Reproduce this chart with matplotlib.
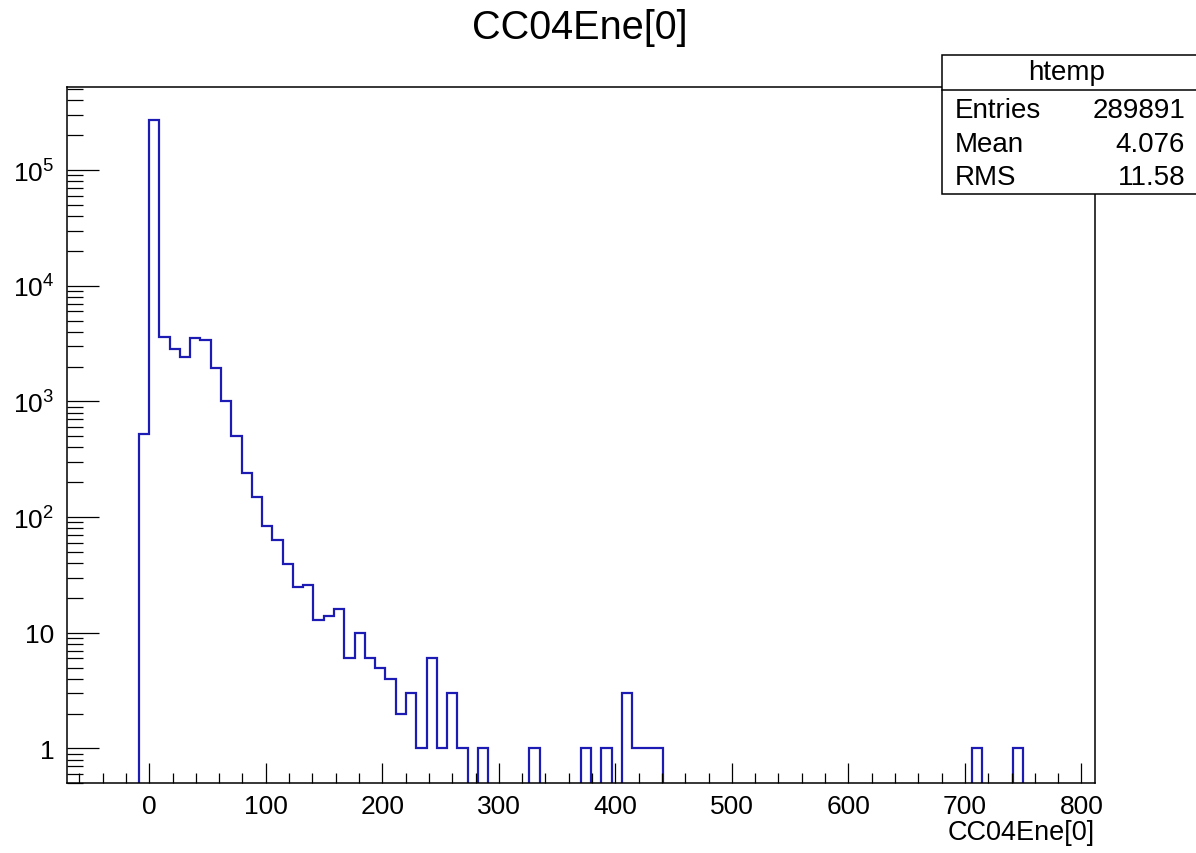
import matplotlib
matplotlib.use("Agg")
import matplotlib.pyplot as plt
import numpy as np
from matplotlib.patches import Rectangle
from matplotlib.lines import Line2D
from matplotlib.ticker import FixedLocator, LogLocator, NullFormatter, MultipleLocator

plt.rcParams['font.family'] = ['Liberation Sans', 'DejaVu Sans']
plt.rcParams['mathtext.fontset'] = 'custom'
plt.rcParams['mathtext.rm'] = 'Liberation Sans'
plt.rcParams['mathtext.it'] = 'Liberation Sans:italic'
plt.rcParams['mathtext.bf'] = 'Liberation Sans:bold'

# ---- data ----
title = "CC04Ene[0]"
x_title = "CC04Ene[0]"
hist_name = "htemp"
x_min, x_max, n_bins = -70.8, 811.6, 100
counts = [
    0, 0, 0, 0, 0, 0, 0, 525, 270000, 3630,
    2845, 2443, 3520, 3383, 1940, 1006, 505, 242, 149, 84,
    63, 39, 25, 26, 13, 14, 16, 6, 10, 6,
    5, 4, 2, 3, 1, 6, 1, 3, 1, 0,
    1, 0, 0, 0, 0, 1, 0, 0, 0, 0,
    1, 0, 1, 0, 3, 1, 1, 1, 0, 0,
    0, 0, 0, 0, 0, 0, 0, 0, 0, 0,
    0, 0, 0, 0, 0, 0, 0, 0, 0, 0,
    0, 0, 0, 0, 0, 0, 0, 0, 1, 0,
    0, 0, 1, 0, 0, 0, 0, 0, 0, 0,
]
stat_labels = ["Entries", "Mean", "RMS"]
stat_values = ["289891", "4.076", "11.58"]
x_major_ticks = [0, 100, 200, 300, 400, 500, 600, 700, 800]
y_major_ticks = [1, 10, 1e2, 1e3, 1e4, 1e5]
y_tick_labels = ["1", "10", r"$10^{2}$", r"$10^{3}$", r"$10^{4}$", r"$10^{5}$"]
y_lo, y_hi = 0.5, 5.2e5

W, H = 1196, 854
fig = plt.figure(figsize=(W / 100, H / 100), dpi=100)
L, R, T, B = 66.7, 1095, 88.3, 784.3
ax = fig.add_axes([L / W, 1 - B / H, (R - L) / W, (B - T) / H])

edges = np.linspace(x_min, x_max, n_bins + 1)
vals = np.array(counts, dtype=float)
vals_plot = np.where(vals > 0, vals, 1e-4)
ax.stairs(vals_plot, edges, baseline=None, color='#1c1cb4', linewidth=1.6)

ax.set_yscale('log')
ax.set_xlim(x_min, x_max)
ax.set_ylim(y_lo, y_hi)

ax.xaxis.set_major_locator(FixedLocator(x_major_ticks))
ax.xaxis.set_minor_locator(MultipleLocator(20))
ax.yaxis.set_major_locator(FixedLocator(y_major_ticks))
ax.set_yticklabels(y_tick_labels)
ax.yaxis.set_minor_locator(LogLocator(base=10, subs=np.arange(2, 10), numticks=30))
ax.yaxis.set_minor_formatter(NullFormatter())

ax.tick_params(axis='both', which='both', direction='in', top=False, right=False,
               width=0.9, color='black')
ax.tick_params(axis='x', which='major', length=14.4, labelsize=19, pad=8)
ax.tick_params(axis='x', which='minor', length=7.2)
ax.tick_params(axis='y', which='major', length=23, labelsize=19, pad=9)
ax.tick_params(axis='y', which='minor', length=11.5)
for s in ax.spines.values():
    s.set_linewidth(1.1)

fig.text(580 / W, 1 - 28 / H, title, ha='center', va='center', fontsize=28.5)
fig.text(R / W, 1 - 833 / H, x_title, ha='right', va='center', fontsize=19.5)

# stats box
bx0, by_top, by_bot, by_div = 941.7, 56, 195, 90.7
box = Rectangle((bx0 / W, 1 - by_bot / H), (W + 10 - bx0) / W, (by_bot - by_top) / H,
                transform=fig.transFigure, facecolor='white', edgecolor='black',
                linewidth=1.1, zorder=5, clip_on=False)
fig.add_artist(box)
fig.add_artist(Line2D([bx0 / W, 1.01], [1 - by_div / H, 1 - by_div / H],
                      transform=fig.transFigure, color='black', linewidth=1.1, zorder=6))
fig.text(1067 / W, 1 - 73 / H, hist_name, ha='center', va='center', fontsize=20, zorder=7)
row_y = [111, 144.5, 178]
for lab, val, yy in zip(stat_labels, stat_values, row_y):
    fig.text(955 / W, 1 - yy / H, lab, ha='left', va='center', fontsize=20, zorder=7)
    fig.text(1185 / W, 1 - yy / H, val, ha='right', va='center', fontsize=20, zorder=7)

fig.savefig('out.png', dpi=100)
